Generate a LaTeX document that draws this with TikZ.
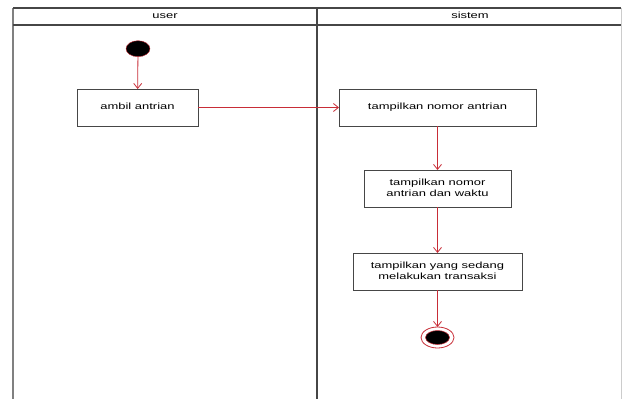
\documentclass[tikz,border=0pt]{standalone}
\usepackage{fontspec}
\setmainfont{Liberation Sans}
\usepackage{graphicx}
\usetikzlibrary{arrows.meta,shapes.geometric}
\definecolor{flowred}{RGB}{200,45,55}
\definecolor{lanegray}{RGB}{70,70,70}
\newcommand{\wtxt}[1]{\scalebox{1.44}[1]{\begin{tabular}{@{}c@{}}#1\end{tabular}}}
\begin{document}
\begin{tikzpicture}[x=1pt,y=-1pt,inner sep=0pt,outer sep=0pt,
font=\fontsize{9}{11}\selectfont,
actbox/.style={draw=lanegray,rectangle,line width=1pt,minimum height=37pt},
flow/.style={draw=flowred,line width=0.8pt,-{Straight Barb[length=5pt,width=8pt]}},
lane/.style={draw=lanegray,line width=1.3pt}]
\useasboundingbox (0,0) rectangle (622,399);
% swimlanes
\draw[lane,draw=gray] (13,399) -- (13,8);
\draw[lane] (13,8) -- (621,8);
\draw[lane] (13,25) -- (621,25);
\draw[lane] (317,8) -- (317,399);
\draw[draw=gray!40,line width=1pt] (621,8) -- (621,399);
\draw (165,16.5) node (userLane) {\wtxt{user}};
\draw (470,16.5) node (sistemLane) {\wtxt{sistem}};
% activities
\draw (138,48.7) node[draw=flowred,fill=black,ellipse,minimum width=24pt,minimum height=16pt] (start) {};
\draw (137.5,107.5) node[actbox,minimum width=121pt] (ambil) {\wtxt{ambil antrian}};
\draw (437.5,107.5) node[actbox,minimum width=197pt] (tampil) {\wtxt{tampilkan nomor antrian}};
\draw (437.5,188.5) node[actbox,minimum width=147pt] (tampilWaktu) {\wtxt{tampilkan nomor\\antrian dan waktu}};
\draw (437.5,271.5) node[actbox,minimum width=169pt] (tampilTransaksi) {\wtxt{tampilkan yang sedang\\melakukan transaksi}};
\draw (437.5,337.5) node[draw=flowred,fill=white,ellipse,line width=0.8pt,minimum width=33pt,minimum height=21pt] (end) {};
\draw (end.center) node[draw=flowred,fill=black,ellipse,line width=0.5pt,minimum width=24pt,minimum height=14pt] (endCore) {};
% flows
\draw[flow] (start) -- (ambil);
\draw[flow] (ambil) -- (tampil);
\draw[flow] (tampil) -- (tampilWaktu);
\draw[flow] (tampilWaktu) -- (tampilTransaksi);
\draw[flow] (tampilTransaksi) -- (end);
\end{tikzpicture}
\end{document}
